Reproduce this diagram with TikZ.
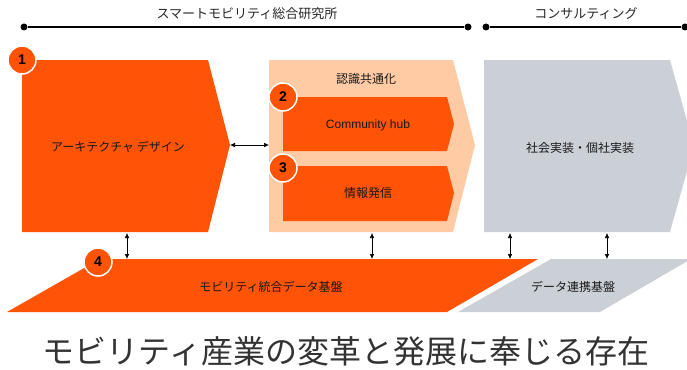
\documentclass[tikz,border=0pt]{standalone}
\usepackage{fontspec}
\setmainfont{Liberation Sans}
\newfontfamily\jp{Noto Sans CJK JP}
\usetikzlibrary{arrows.meta}

\definecolor{mobiorange}{RGB}{255,83,5}
\definecolor{mobipeach}{RGB}{255,203,165}
\definecolor{mobigray}{RGB}{203,207,214}

\tikzset{
  num/.style={circle,fill=mobiorange,draw=white,line width=1.5pt,
    minimum size=28pt,inner sep=0pt,font=\bfseries\fontsize{14}{14}\selectfont},
  lbl/.style={font=\jp\fontsize{12}{12}\selectfont,text=black!90},
  headlbl/.style={font=\jp\fontsize{13}{13}\selectfont,text=black!85},
  biarrow/.style={{Latex[length=5pt,width=4.5pt]}-{Latex[length=5pt,width=4.5pt]},line width=0.6pt},
  dot/.style={circle,fill=black,inner sep=0pt,minimum size=7pt}
}

\begin{document}
\begin{tikzpicture}[x=1pt,y=-1pt]
  \useasboundingbox (0,0) rectangle (687,369);

  % linii de sus
  \node[dot] (smL) at (24,27) {};
  \node[dot] (smR) at (468,27) {};
  \node[dot] (coL) at (486,27) {};
  \node[dot] (coR) at (685,27) {};
  \draw[line width=1.3pt] (smL) -- (smR);
  \draw[line width=1.3pt] (coL) -- (coR);
  \node[headlbl] (smart) at (247,14) {スマートモビリティ総合研究所};
  \node[headlbl] (consul) at (586,14) {コンサルティング};

  % blocurile de sus
  \fill[mobiorange] (22,60) -- (208,60) -- (230,145) -- (208,232) -- (22,232) -- cycle;
  \fill[mobipeach] (269,60) -- (453,60) -- (475,145) -- (453,232) -- (269,232) -- cycle;
  \fill[mobiorange] (283,97) -- (447,97) -- (454,124) -- (447,151) -- (283,151) -- cycle;
  \fill[mobiorange] (283,166) -- (447,166) -- (454,193) -- (447,221) -- (283,221) -- cycle;
  \fill[mobigray] (484,60) -- (670,60) -- (694,146) -- (670,232) -- (484,232) -- cycle;

  \node[lbl] (arch) at (118,147) {アーキテクチャ デザイン};
  \node[lbl] (ninshiki) at (366,79) {認識共通化};
  \node[font=\fontsize{12}{12}\selectfont,text=black!90] (hub) at (368,125) {Community hub};
  \node[lbl] (hasshin) at (368,193) {情報発信};
  \node[lbl] (jisso) at (580,148) {社会実装・個社実装};

  % banda de jos
  \fill[mobiorange] (100,259) -- (538,259) -- (447,312) -- (7,312) -- cycle;
  \fill[mobigray] (551,259) -- (691,259) -- (600,312) -- (458,312) -- cycle;
  \node[lbl] (togo) at (271,287) {モビリティ統合データ基盤};
  \node[lbl] (renkei) at (573,287) {データ連携基盤};

  % numerele
  \node[num] (n1) at (22,60) {1};
  \node[num] (n2) at (283,97) {2};
  \node[num] (n3) at (283,168) {3};
  \node[num] (n4) at (98,262) {4};

  % sageti
  \coordinate (archtip) at (230,145);
  \coordinate (peachW) at (269,145);
  \draw[biarrow] (archtip) -- (peachW);
  \foreach \x/\n in {127/a,372/b,510/c,607/d} {
    \coordinate (up\n) at (\x,233);
    \coordinate (dn\n) at (\x,259);
    \draw[biarrow] (up\n) -- (dn\n);
  }

  % titlul de jos
  \node[font=\jp\fontsize{32}{32}\selectfont,text=black!80] (motto) at (346,351)
    {モビリティ産業の変革と発展に奉じる存在};
\end{tikzpicture}
\end{document}
